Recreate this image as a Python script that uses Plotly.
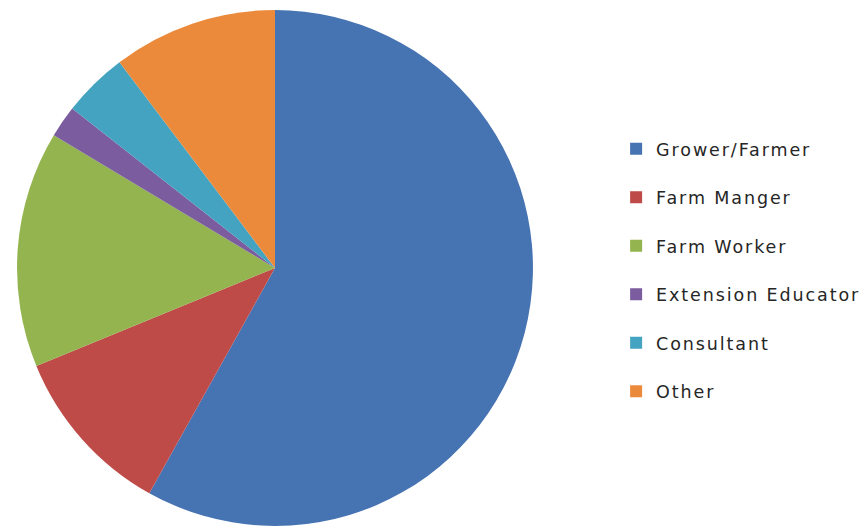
import plotly.graph_objects as go

# share of respondents by role (percent)
roles = ["Grower/Farmer", "Farm Manger", "Farm Worker",
         "Extension Educator", "Consultant", "Other"]
shares = [58.1, 10.7, 14.8, 2.0, 4.1, 10.3]
colors = ["#4673B2", "#BE4B48", "#94B44F", "#7A5C9F", "#44A3C0", "#EC8A3C"]

# letter-spaced labels, plus a blank second line to open up the legend rows
legend_labels = [
    "<span style='letter-spacing:1.9px'>" + r + "</span>"
    "<br><span style='font-size:24px'> </span>"
    for r in roles
]

fig = go.Figure(go.Pie(
    labels=legend_labels,
    values=shares,
    sort=False,
    direction="clockwise",
    rotation=0,
    marker=dict(colors=colors, line=dict(width=0)),
    textinfo="none",
    hoverinfo="none",
    domain=dict(x=[0.0104, 0.6048], y=[0.0172, 0.9962]),
))

fig.update_layout(
    width=868, height=527,
    margin=dict(l=0, r=0, t=0, b=0),
    paper_bgcolor="white",
    plot_bgcolor="white",
    showlegend=True,
    legend=dict(
        x=0.7006, xanchor="left",
        y=0.4814, yanchor="middle",
        valign="top",
        font=dict(family="DejaVu Sans", size=17.5, color="#262626"),
        bgcolor="rgba(0,0,0,0)",
    ),
)

fig.write_html("out.html")
